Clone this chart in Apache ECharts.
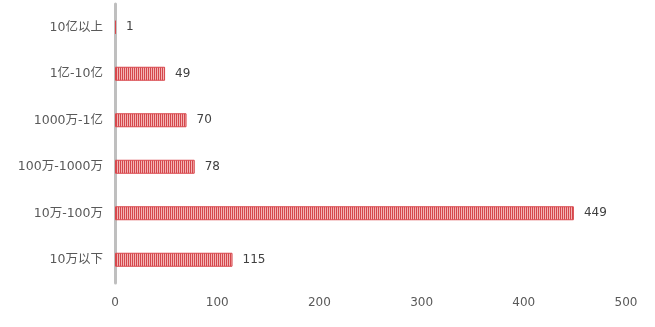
<!DOCTYPE html>
<html><head><meta charset="utf-8">
<script src="https://cdn.jsdelivr.net/npm/echarts@6/dist/echarts.min.js"></script>
<style>html,body{margin:0;padding:0;background:#fff}#c{width:655px;height:327px}</style>
</head><body><div id="c"></div>
<script>
var categories = ['10万以下','10万-100万','100万-1000万','1000万-1亿','1亿-10亿','10亿以上'];
var values = [115,449,78,70,49,1];
var xTicks = [0,100,200,300,400,500];

var cv = document.createElement('canvas');
cv.width = 2; cv.height = 4;
var cx = cv.getContext('2d');
cx.fillStyle = '#d4474c'; cx.fillRect(0,0,1,4);
cx.fillStyle = '#f3b5b5'; cx.fillRect(1,0,1,4);

var FF = '"DejaVu Sans", "Noto Sans CJK SC", sans-serif';
var chart = echarts.init(document.getElementById('c'), null, {renderer:'canvas'});
chart.setOption({
  animation:false,
  grid:{left:115,right:29,top:4,bottom:44,containLabel:false},
  xAxis:{type:'value',min:xTicks[0],max:xTicks[xTicks.length-1],interval:100,
    axisLine:{show:false},axisTick:{show:false},splitLine:{show:false},
    axisLabel:{color:'#595959',fontSize:12,fontFamily:FF,margin:14}},
  yAxis:{type:'category',data:categories,
    axisLine:{show:true,lineStyle:{color:'#bfbfbf',width:3}},axisTick:{show:false},
    axisLabel:{color:'#595959',fontSize:12.5,fontFamily:FF,margin:12,padding:[3,0,0,0]}},
  series:[{type:'bar',data:values,barWidth:14,
    itemStyle:{color:{image:cv,repeat:'repeat'},borderColor:'#d9474c',borderWidth:1},
    label:{show:true,position:'right',distance:10,color:'#404040',fontSize:12,fontFamily:FF,padding:[2,0,0,0]}}]
});
</script></body></html>
